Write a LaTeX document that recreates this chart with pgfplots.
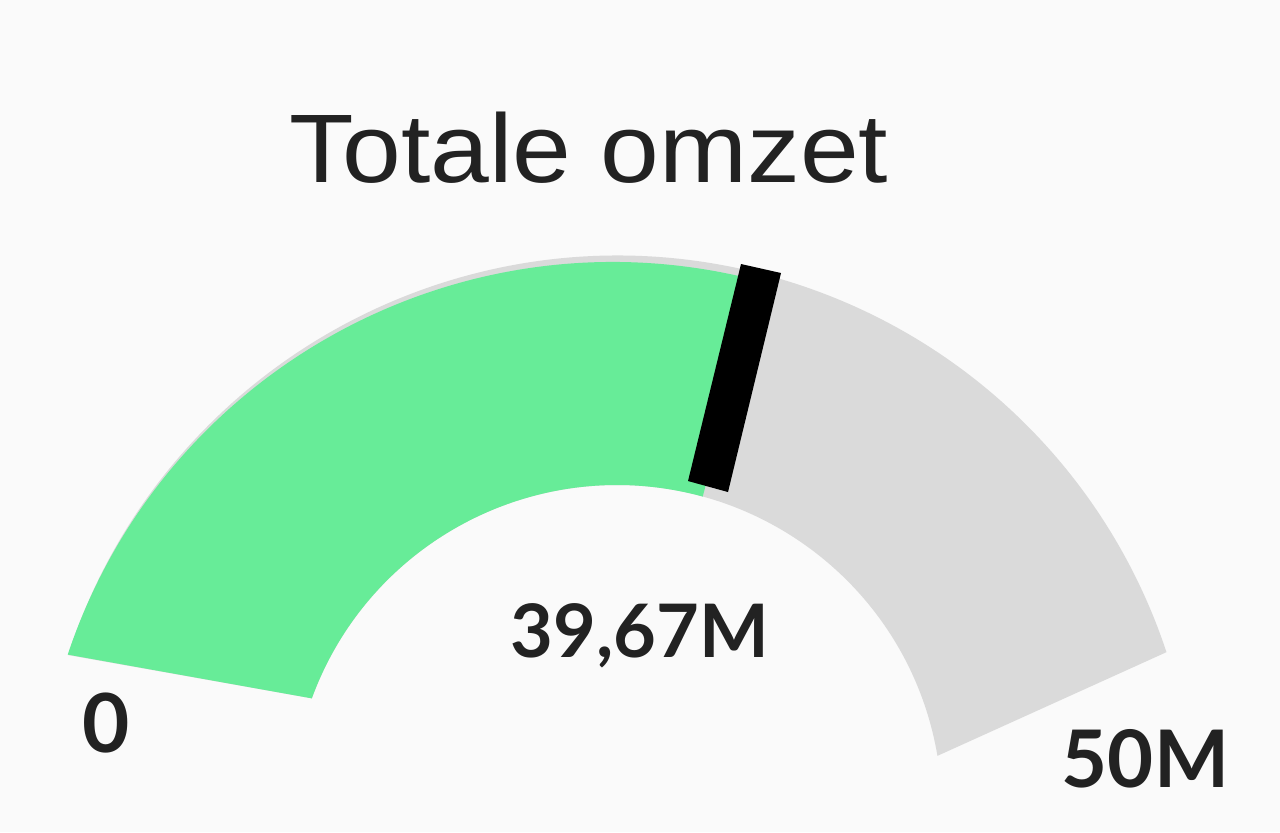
\documentclass[border=0pt]{standalone}
\usepackage{fontspec}
\setmainfont{Liberation Sans}
\newfontfamily\numfont{Lato}
\usepackage{pgfplots}
\pgfplotsset{compat=1.18}

\definecolor{bg}{HTML}{FAFAFA}
\definecolor{track}{HTML}{DADADA}
\definecolor{valgreen}{HTML}{67EC98}
\definecolor{txt}{HTML}{222222}

% gauge data: value 39.67 of max 50
\def\gaugeval{39,67M}
\def\gaugemin{0}
\def\gaugemax{50M}

\begin{document}
\begin{tikzpicture}
\begin{axis}[
    scale only axis,
    width=12.8cm, height=8.32cm,
    xmin=0, xmax=1280, ymin=0, ymax=832,
    y dir=reverse,
    hide axis,
    clip=false,
]
\fill[bg] (axis cs:0,0) rectangle (axis cs:1280,832);

% grey track (slightly larger, shows as a thin rim above the green)
\fill[track] ([shift={(162:5.78cm)}]axis cs:617.7,833.6)
    arc[start angle=162, end angle=18.3, radius=5.78cm]
    -- ([shift={(9.6:3.25cm)}]axis cs:617,810)
    arc[start angle=9.6, end angle=159.9, radius=3.25cm] -- cycle;

% green value part, up to the needle
\fill[valgreen] ([shift={(161.5:5.75cm)}]axis cs:613,837)
    arc[start angle=161.5, end angle=75.4, radius=5.75cm]
    -- ([shift={(74.7:3.25cm)}]axis cs:617,810)
    arc[start angle=74.7, end angle=159.9, radius=3.25cm] -- cycle;

% needle
\fill[black] (axis cs:741,264) -- (axis cs:781,273) -- (axis cs:728,492) -- (axis cs:688,481) -- cycle;

\node[anchor=base, inner sep=0pt, text=txt, xscale=1.085,
      font=\fontsize{27.7}{30}\selectfont] at (axis cs:589,182) {Totale omzet};
\node[anchor=base, inner sep=0pt, text=txt,
      font=\numfont\bfseries\fontsize{21}{23}\selectfont] at (axis cs:640,657) {\gaugeval};
\node[anchor=base, inner sep=0pt, text=txt,
      font=\numfont\bfseries\fontsize{23.2}{25}\selectfont] at (axis cs:106,752) {\gaugemin};
\node[anchor=base, inner sep=0pt, text=txt,
      font=\numfont\bfseries\fontsize{22.6}{25}\selectfont] at (axis cs:1145.5,787) {\gaugemax};
\end{axis}
\end{tikzpicture}
\end{document}
